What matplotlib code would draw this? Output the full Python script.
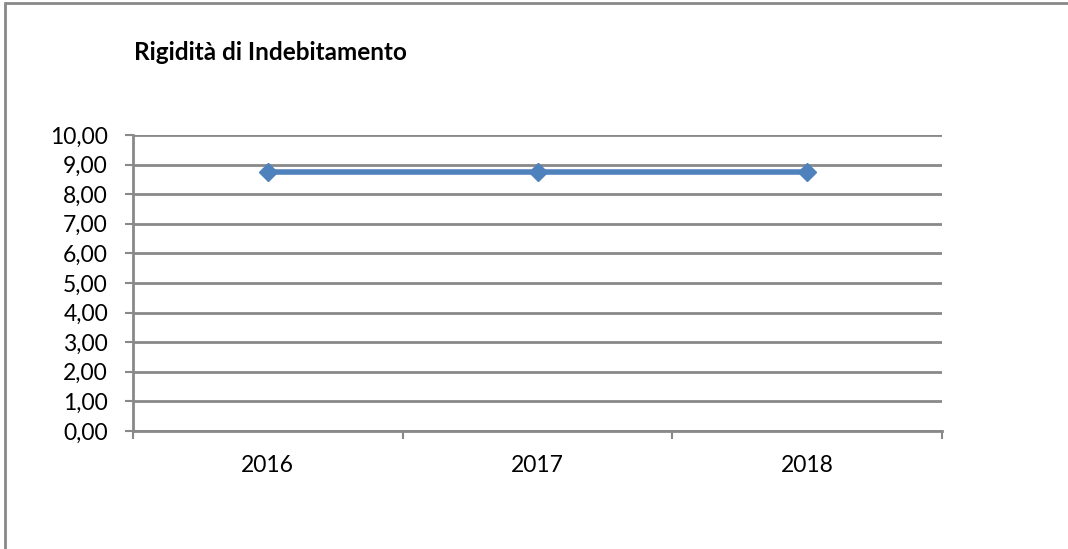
import matplotlib.pyplot as plt
from matplotlib.patches import Rectangle

years = ["2016", "2017", "2018"]
values = [8.76, 8.76, 8.76]
y_ticks = [0, 1, 2, 3, 4, 5, 6, 7, 8, 9, 10]

plt.rcParams["font.family"] = ["Lato", "DejaVu Sans"]

fig = plt.figure(figsize=(10.68, 5.49), dpi=100)
ax = fig.add_axes([133 / 1068, 1 - 431 / 549, (942 - 133) / 1068, (431 - 135) / 549])

grey = "#898989"
x = list(range(len(years)))
ax.plot(x, values, color="#4F81BD", linewidth=4, marker="D", markersize=9,
        solid_capstyle="butt", zorder=3, clip_on=False)

ax.set_xlim(-0.5, len(years) - 0.5)
ax.set_ylim(0, 10)
ax.set_yticks(y_ticks)
ax.set_yticklabels([f"{v:.2f}".replace(".", ",") for v in y_ticks], fontsize=16.5)
ax.yaxis.grid(True, color=grey, linewidth=2)
ax.set_axisbelow(True)

ax.set_xticks([i - 0.5 for i in range(len(years) + 1)])
ax.set_xticklabels([])
ax.set_xticks(x, minor=True)
ax.set_xticklabels(years, minor=True, fontsize=16.5)
ax.tick_params(axis="x", which="major", length=6, width=1.5, color=grey, direction="out")
ax.tick_params(axis="x", which="minor", length=0, pad=17)
ax.tick_params(axis="y", length=6, width=1.5, color=grey, pad=12)

for side in ["top", "right"]:
    ax.spines[side].set_visible(False)
for side in ["left", "bottom"]:
    ax.spines[side].set_color(grey)
    ax.spines[side].set_linewidth(2)

fig.text(134 / 1068, 1 - 53 / 549, "Rigidità di Indebitamento", fontsize=17.5,
         fontweight="bold", ha="left", va="center")

# outer chart border (right and bottom edges fall outside the image)
fig.patches.append(Rectangle((5 / 1068, -0.1), 1.2, 1 - 3 / 549 + 0.1,
                             transform=fig.transFigure, fill=False,
                             edgecolor=grey, linewidth=2))

fig.savefig("out.png", dpi=100)
